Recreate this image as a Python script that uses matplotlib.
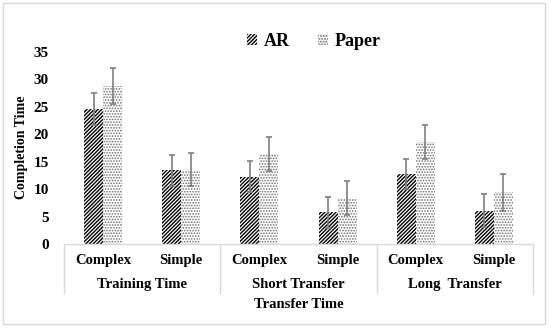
import matplotlib
matplotlib.use("Agg")
import matplotlib.pyplot as plt
from matplotlib.patches import Rectangle
from matplotlib.transforms import blended_transform_factory
import numpy as np

plt.rcParams['font.family'] = ['Liberation Serif', 'DejaVu Serif']
plt.rcParams['font.weight'] = 'bold'
plt.rcParams['hatch.linewidth'] = 1.0

categories = ["Complex", "Simple", "Complex", "Simple", "Complex", "Simple"]
groups = ["Training Time", "Short Transfer", "Long  Transfer"]
outer_label = "Transfer Time"
ar_values = [24.6, 13.4, 12.3, 5.8, 12.8, 6.1]
ar_err = [2.9, 2.8, 2.9, 2.8, 2.7, 3.0]
paper_values = [28.8, 13.5, 16.4, 8.3, 18.6, 9.4]
paper_err = [3.2, 3.0, 3.1, 3.1, 3.1, 3.4]
series_names = ["AR", "Paper"]
yticks = [0, 5, 10, 15, 20, 25, 30, 35]

fig = plt.figure(figsize=(5.5, 3.29), dpi=100)
ax = fig.add_axes([64/550, 1-244/329, 469/550, 192/329])

x = np.arange(len(categories))
w = 0.243
err_kw = dict(ecolor='#7f7f7f', elinewidth=1.2, capsize=2.5, capthick=1.2)
ax.bar(x - w/2, ar_values, w, yerr=ar_err, color='white', edgecolor='black',
       hatch='/' * 9, linewidth=0, label=series_names[0], error_kw=err_kw)
bars_p = ax.bar(x + w/2, paper_values, w, yerr=paper_err, color='white', edgecolor='#6e6e6e',
                hatch='.' * 6, linewidth=0, label=series_names[1], error_kw=err_kw)
for b in bars_p:
    if hasattr(b, 'set_hatch_linewidth'):
        b.set_hatch_linewidth(0.8)

ax.set_xlim(-0.5, len(categories) - 0.5)
ax.set_ylim(0, 35)
ax.set_yticks(yticks)
ax.set_yticklabels([str(t) for t in yticks], fontsize=11, fontweight='bold')
ax.tick_params(axis='y', length=0, pad=11)
ax.set_xticks([])
for s in ax.spines.values():
    s.set_visible(False)

ax.set_ylabel("Completion Time", fontsize=10, fontweight='bold')
ax.yaxis.set_label_coords(-0.077, 0.503)

trans = blended_transform_factory(ax.transData, ax.transAxes)
line_c = '#d9d9d9'
ax.plot([0, 1], [0, 0], transform=ax.transAxes, color=line_c, lw=1, clip_on=False)
for xs in [0, 1/3, 2/3, 1]:
    ax.plot([xs, xs], [0, -0.255], transform=ax.transAxes, color=line_c, lw=1, clip_on=False)

for xi, c in zip(x, categories):
    ax.text(xi, -0.0885, c, transform=trans, ha='center', va='center',
            fontsize=10.5, fontweight='bold')
for gi, g in enumerate(groups):
    ax.text(2*gi + 0.5, -0.212, g, transform=trans, ha='center', va='center',
            fontsize=10.5, fontweight='bold')
ax.text(2.5, -0.3125, outer_label, transform=trans, ha='center', va='center',
        fontsize=10.5, fontweight='bold')

fig.legend(loc='center', bbox_to_anchor=(314/550, 1-41/329), ncol=2, frameon=False,
           handlelength=0.55, handleheight=0.55, handletextpad=0.35, columnspacing=1.6,
           prop={'family': 'Liberation Serif', 'weight': 'bold', 'style': 'normal', 'size': 13})

fig.patches.append(Rectangle((3/550, 5/329), 542/550, 321/329, transform=fig.transFigure,
                             fill=False, edgecolor='#d9d9d9', lw=1))

fig.savefig("out.png", dpi=100)
